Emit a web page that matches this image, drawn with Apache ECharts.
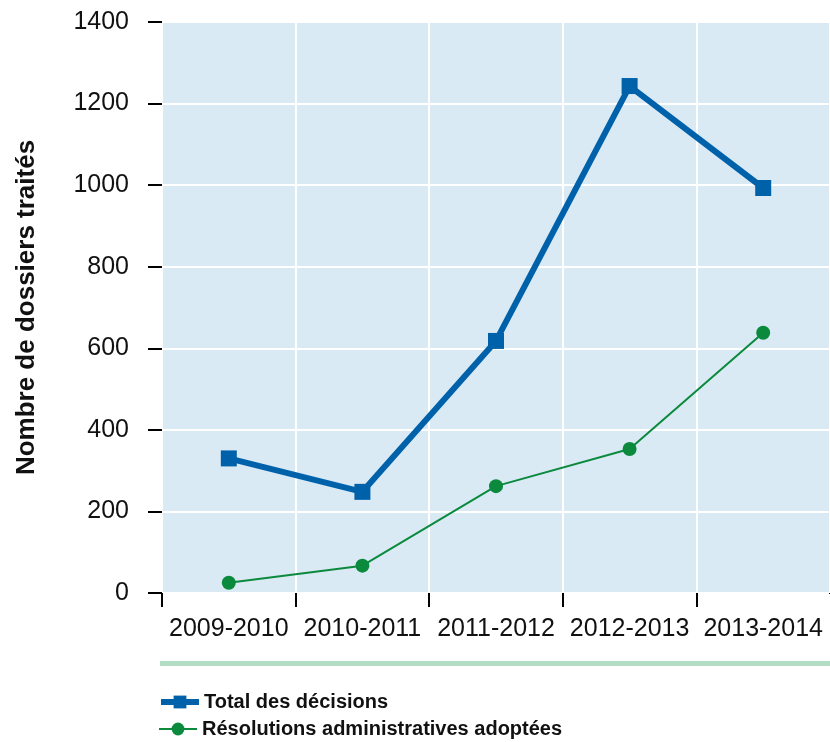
<!DOCTYPE html>
<html><head><meta charset="utf-8">
<script src="https://cdn.jsdelivr.net/npm/echarts@6/dist/echarts.min.js"></script>
<style>html,body{margin:0;padding:0;background:#fff}#c{width:830px;height:742px}</style>
</head><body><div id="c"></div>
<script>
const categories = ['2009-2010','2010-2011','2011-2012','2012-2013','2013-2014'];
const totalDecisions = [330, 248, 618, 1243, 993];
const resolutions = [25, 67, 262, 353, 638];
const yTicks = [0,200,400,600,800,1000,1200,1400];
const seriesNames = ['Total des décisions', 'Résolutions administratives adoptées'];

const FONT = '"Liberation Sans Narrow", "Liberation Sans", sans-serif';
const legendBase = {
  orient: 'horizontal', left: 158, itemGap: 8, itemWidth: 38, itemHeight: 16,
  textStyle: {fontFamily: FONT, fontSize: 20, fontWeight: 'bold', color: '#111'}, padding: 0
};
const chart = echarts.init(document.getElementById('c'));
chart.setOption({
  backgroundColor: '#fff',
  animation: false,
  grid: {left: 162, right: 0, top: 22, bottom: 149, show: true, backgroundColor: '#d9eaf4', borderWidth: 0},
  xAxis: {
    type: 'category', data: categories, boundaryGap: true,
    axisLine: {show: false},
    axisTick: {show: true, length: 14, lineStyle: {color: '#000', width: 2}},
    splitLine: {show: true, interval: 0, lineStyle: {color: '#fff', width: 2}},
    axisLabel: {fontFamily: FONT, fontSize: 25, color: '#111', margin: 24, interval: 0}
  },
  yAxis: {
    type: 'value', min: 0, max: 1400, interval: 200,
    name: 'Nombre de dossiers traités', nameLocation: 'middle', nameGap: 122,
    nameTextStyle: {fontFamily: FONT, fontSize: 26, fontWeight: 'bold', color: '#111'},
    axisLine: {show: false},
    axisTick: {show: true, length: 14, lineStyle: {color: '#000', width: 2}},
    splitLine: {show: true, lineStyle: {color: '#fff', width: 2}},
    axisLabel: {fontFamily: FONT, fontSize: 25, color: '#111', margin: 33,
      formatter: v => yTicks.includes(v) ? String(v) : ''}
  },
  legend: [
    Object.assign({}, legendBase, {top: 692, data: [seriesNames[0]], lineStyle: {width: 6}}),
    Object.assign({}, legendBase, {top: 719, data: [seriesNames[1]], lineStyle: {width: 2}})
  ],
  graphic: [
    {type: 'rect', shape: {x: 160, y: 661, width: 670, height: 5}, style: {fill: '#b2dcc3'}},
    {type: 'rect', z: 100, shape: {x: 824, y: 594, width: 6, height: 16}, style: {fill: '#fff'}}
  ],
  series: [
    {name: seriesNames[0], type: 'line', data: totalDecisions,
     lineStyle: {color: '#0061ab', width: 6}, itemStyle: {color: '#0061ab'},
     symbol: 'rect', symbolSize: 16},
    {name: seriesNames[1], type: 'line', data: resolutions,
     lineStyle: {color: '#0b8a3e', width: 2}, itemStyle: {color: '#0b8a3e'},
     symbol: 'circle', symbolSize: 14}
  ]
});
</script></body></html>
